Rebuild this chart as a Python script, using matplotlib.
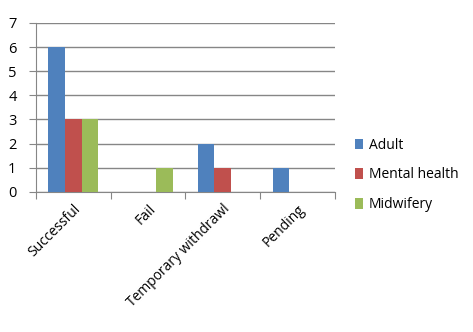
import numpy as np
import matplotlib
matplotlib.use("Agg")
from matplotlib import pyplot as plt

categories = ["Successful", "Fail", "Temporary withdrawl", "Pending"]
adult = [6, 0, 2, 1]
mental_health = [3, 0, 1, 0]
midwifery = [3, 1, 0, 0]
series_names = ["Adult", "Mental health", "Midwifery"]
colors = ["#4F81BD", "#C0504D", "#9BBB59"]

plt.rcParams['font.family'] = ['Open Sans', 'DejaVu Sans']

fig = plt.figure(figsize=(4.73, 3.32), dpi=100)
ax = fig.add_axes([0.076, 0.422, 0.632, 0.509])

x = np.arange(len(categories))
w = 1 / 4.5
for i, (vals, name, c) in enumerate(zip([adult, mental_health, midwifery], series_names, colors)):
    ax.bar(x + (i - 1) * w, vals, width=w, color=c, label=name, zorder=3)

ax.set_xlim(-0.5, len(categories) - 0.5)
ax.set_ylim(0, 7)
ax.set_yticks(range(0, 8))
ax.yaxis.grid(True, color="#868686", linewidth=1, zorder=0)
ax.set_xticks(np.arange(-0.5, len(categories), 1))
ax.set_xticklabels([])
ax.set_xticks(x, minor=True)
ax.set_xticklabels(categories, minor=True, rotation=45, ha="right", rotation_mode="anchor", fontsize=10)
ax.tick_params(axis="x", which="minor", length=0, pad=7)
ax.tick_params(axis="x", which="major", length=5, color="#868686")
ax.tick_params(axis="y", length=5, color="#868686", labelsize=10.5, pad=9)

for s in ["top", "right"]:
    ax.spines[s].set_visible(False)
for s in ["left", "bottom"]:
    ax.spines[s].set_color("#868686")

ax.legend(loc="center left", bbox_to_anchor=(1.025, 0.1), frameon=False, fontsize=10,
          handlelength=0.6, handleheight=0.8, handletextpad=0.4, labelspacing=1.05)

fig.savefig("out.png", dpi=100)
